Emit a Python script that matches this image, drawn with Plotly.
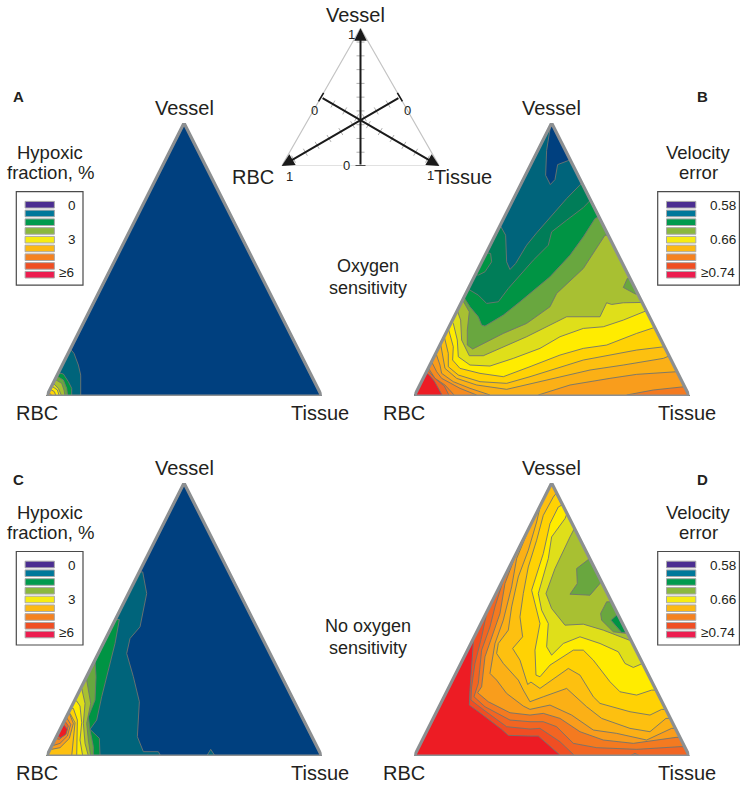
import plotly.graph_objects as go

W, H = 743, 786
FONT = "Liberation Sans"

# colour classes of the contour bands
SHADES = {
    "blue": "#00407f", "teal": "#00647b", "dkgreen": "#007d58", "green": "#009444",
    "midgreen": "#69a73f", "olive": "#a8c032", "yg": "#dfdf1a", "yellow": "#ffec00",
    "gold": "#ffd204", "amber": "#fdc010", "o1": "#fbb016", "o2": "#f99d1c",
    "o3": "#f68b1f", "o4": "#f47a20", "o5": "#f26522", "o6": "#f04e23", "red": "#ed1c24",
}
LEGEND_SHADES = ["#4b2e91", "#00789a", "#009a4e", "#8ab83f", "#f6ec13", "#fdb913", "#f58220", "#f04e23", "#ed1c4f"]

# triangle scale: base runs 0..825, apex at (412, 820)
TRIANGLE = [(0, 0), (825, 0), (412, 820)]

# contour bands, lowest layer first
A_SHADES = ["blue", "teal", "green", "midgreen", "olive", "yg", "yellow", "gold", "o2"]
A_BANDS = [
    TRIANGLE,
    [(72, 140), (82, 128), (95, 93), (102, 63), (102, 0), (0, 0)],
    [(35, 70), (50, 66), (65, 43), (75, 23), (75, 0), (0, 0)],
    [(30, 60), (50, 48), (60, 23), (63, 0), (0, 0)],
    [(25, 50), (45, 38), (52, 18), (55, 0), (0, 0)],
    [(20, 38), (35, 23), (45, 0), (0, 0)],
    [(15, 30), (32, 18), (38, 0), (0, 0)],
    [(11, 20), (23, 13), (28, 0), (0, 0)],
    [(6, 10), (15, 3), (15, 0), (0, 0)],
]

B_SHADES = ["teal", "blue", "dkgreen", "green", "green", "midgreen", "olive", "midgreen", "yg", "yellow",
            "gold", "amber", "o1", "o2", "o2", "o3", "o4", "o4", "o5", "red"]
B_BANDS = [
    TRIANGLE,
    [(410, 820), (397, 738), (394, 663), (408, 635), (422, 650), (430, 695), (459, 706), (467, 710)],
    [(259, 510), (274, 483), (277, 403), (287, 380), (304, 398), (337, 453), (367, 490), (412, 543), (457, 593),
     (499, 636), (505, 636), (825, 0), (0, 0)],
    [(162, 321), (192, 303), (217, 278), (252, 283), (282, 323), (317, 363), (357, 408), (402, 453), (412, 493),
     (457, 528), (507, 566), (530, 590), (825, 0), (0, 0)],
    [(219, 430), (229, 428), (232, 403), (212, 373), (192, 363), (183, 365)],
    [(149, 296), (167, 268), (192, 238), (202, 213), (212, 210), (267, 243), (317, 283), (407, 358), (467, 423),
     (507, 478), (542, 533), (552, 538), (825, 0), (0, 0)],
    [(145, 288), (165, 253), (159, 198), (159, 153), (175, 141), (217, 163), (267, 188), (337, 218), (407, 268),
     (427, 308), (507, 383), (572, 483), (582, 483), (825, 0), (0, 0)],
    [(639, 353), (627, 326), (664, 306), (670, 306), (647, 353)],
    [(129, 256), (139, 228), (142, 168), (165, 121), (207, 121), (267, 148), (337, 178), (427, 223), (457, 238),
     (557, 238), (577, 280), (592, 275), (627, 280), (683, 281), (825, 0), (0, 0)],
    [(113, 223), (117, 218), (129, 168), (132, 118), (167, 93), (227, 90), (297, 113), (377, 143), (437, 178),
     (507, 203), (567, 208), (627, 228), (696, 256), (825, 0), (0, 0)],
    [(102, 203), (117, 148), (115, 108), (137, 83), (197, 68), (267, 58), (347, 88), (437, 123), (507, 143),
     (577, 153), (667, 188), (721, 206), (825, 0), (0, 0)],
    [(90, 178), (102, 128), (102, 88), (132, 63), (197, 43), (277, 38), (347, 58), (427, 83), (507, 108),
     (587, 123), (667, 138), (750, 148), (825, 0), (0, 0)],
    [(79, 156), (89, 108), (92, 83), (127, 53), (187, 33), (277, 20), (357, 38), (437, 58), (527, 78),
     (627, 93), (747, 113), (764, 120), (825, 0), (0, 0)],
    [(65, 128), (77, 93), (82, 68), (117, 43), (167, 23), (227, 3), (227, 0), (0, 0)],
    [(372, 3), (467, 33), (587, 53), (667, 65), (788, 73), (825, 0), (372, 0)],
    [(52, 103), (67, 73), (82, 53), (137, 23), (187, 3), (187, 0), (0, 0)],
    [(43, 83), (62, 53), (92, 33), (122, 3), (122, 0), (0, 0)],
    [(637, 3), (717, 18), (811, 28), (825, 0), (637, 0)],
    [(38, 80), (65, 50), (90, 30), (105, 3), (105, 0), (0, 0)],
    [(35, 68), (42, 66), (60, 45), (85, 0), (0, 0)],
]

C_SHADES = ["blue", "teal", "teal", "green", "midgreen", "olive", "yg", "yellow", "gold", "amber", "o2", "o3", "o5", "red"]
C_BANDS = [
    TRIANGLE,
    [(278, 553), (288, 553), (300, 488), (280, 388), (250, 353), (240, 308), (260, 238), (278, 163), (272, 58),
     (290, 13), (335, 13), (342, 0), (0, 0)],
    [(480, 0), (492, 20), (505, 0)],
    [(207, 410), (218, 410), (205, 338), (185, 258), (165, 178), (150, 108), (130, 80), (158, 53), (160, 0), (0, 0)],
    [(145, 288), (148, 238), (145, 168), (125, 118), (130, 78), (140, 28), (140, 0), (0, 0)],
    [(116, 228), (120, 228), (132, 158), (120, 98), (125, 48), (132, 8), (132, 0), (0, 0)],
    [(100, 203), (105, 203), (115, 158), (110, 98), (115, 38), (125, 0), (0, 0)],
    [(85, 168), (90, 165), (100, 150), (105, 100), (100, 48), (108, 0), (0, 0)],
    [(72, 143), (80, 143), (92, 108), (90, 48), (90, 0), (0, 0)],
    [(65, 128), (70, 128), (85, 100), (80, 50), (75, 0), (0, 0)],
    [(60, 120), (68, 128), (80, 98), (68, 53), (40, 25), (15, 20), (10, 22)],
    [(55, 110), (60, 115), (72, 95), (62, 60), (40, 38), (22, 32), (15, 30)],
    [(50, 102), (55, 105), (65, 90), (55, 65), (38, 50), (28, 52), (25, 50)],
    [(48, 98), (62, 80), (58, 65), (42, 55), (32, 60), (30, 60)],
]

D_SHADES = ["red", "o6", "o5", "o4", "o2", "o1", "amber", "gold", "yellow", "yg", "olive", "midgreen", "midgreen", "green", "o5"]
D_BANDS = [
    TRIANGLE,
    [(178, 352), (172, 278), (167, 198), (165, 153), (197, 130), (262, 80), (282, 62), (347, 60), (372, 60), (437, 3), (437, 0), (825, 0), (412, 820)],
    [(217, 428), (202, 358), (182, 278), (172, 208), (170, 168), (202, 143), (277, 88), (347, 81), (377, 83), (437, 43), (479, 3), (479, 0), (825, 0), (412, 820)],
    [(267, 528), (242, 448), (227, 388), (202, 318), (192, 218), (179, 178), (212, 148), (287, 108), (347, 103), (387, 103), (427, 88), (477, 38), (547, 25), (667, 20), (797, 28), (811, 28), (412, 820)],
    [(304, 603), (272, 518), (257, 428), (237, 368), (212, 298), (202, 208), (190, 190), (222, 163), (287, 130), (347, 123), (387, 128), (437, 113), (497, 73), (567, 48), (657, 38), (785, 56), (796, 56), (412, 820)],
    [(342, 678), (307, 593), (292, 508), (267, 408), (242, 338), (227, 248), (247, 228), (277, 188), (327, 150), (347, 140), (407, 153), (472, 123), (537, 78), (607, 68), (697, 48), (772, 83), (783, 83), (412, 820)],
    [(378, 750), (367, 703), (342, 618), (312, 538), (292, 448), (282, 378), (252, 338), (247, 308), (267, 278), (312, 228), (327, 198), (347, 163), (387, 178), (457, 203), (517, 148), (562, 113), (647, 83), (707, 73), (755, 113), (767, 113), (412, 820)],
    [(425, 788), (417, 778), (387, 723), (367, 648), (342, 568), (327, 488), (317, 418), (325, 358), (295, 323), (317, 288), (340, 215), (350, 222), (377, 203), (462, 263), (497, 243), (537, 178), (557, 158), (647, 133), (707, 123), (742, 140), (752, 140)],
    [(445, 755), (432, 748), (407, 698), (387, 608), (352, 498), (362, 458), (377, 398), (362, 318), (365, 243), (377, 238), (407, 273), (477, 318), (507, 318), (537, 288), (587, 223), (617, 193), (667, 183), (712, 198), (725, 198)],
    [(458, 728), (452, 713), (412, 658), (402, 593), (372, 488), (382, 438), (402, 398), (397, 328), (412, 303), (447, 338), (497, 358), (557, 338), (612, 313), (632, 278), (657, 266), (685, 278)],
    [(480, 683), (467, 658), (422, 563), (395, 488), (412, 443), (452, 393), (507, 396), (567, 378), (650, 346)],
    [(526, 593), (487, 563), (489, 518), (467, 486), (527, 483), (561, 523)],
    [(591, 463), (577, 463), (559, 428), (562, 408), (597, 373), (639, 368)],
    [(610, 426), (590, 408), (622, 371), (636, 371)],
    [(647, 0), (662, 8), (677, 0)],
]

LEGEND_A = ["0", "3", "≥6"]
LEGEND_B = ["0.58", "0.66", "≥0.74"]
KEY_TICKS = [0.1, 0.2, 0.3, 0.4, 0.5, 0.6, 0.7, 0.8, 0.9]


def px(x):
    return x / W


def py(y):
    return 1 - y / H


fig = go.Figure()
annotations = []
shapes = []


def label(text, x, y, size=20, bold=False, bg=None):
    annotations.append(dict(
        text=f"<b>{text}</b>" if bold else text, x=px(x), y=py(y), xref="paper", yref="paper",
        showarrow=False, xanchor="center", yanchor="middle", bgcolor=bg, borderpad=0,
        font=dict(family=FONT, size=size, color="#231f20"),
    ))


def draw_panel(n, bands, band_shades, left, top, bottom):
    # one triangle = one hidden pair of axes
    ax = dict(visible=False, fixedrange=True)
    fig.layout[f"xaxis{n}"] = dict(ax, domain=[px(left), px(left + 275)], range=[0, 825], anchor=f"y{n}")
    fig.layout[f"yaxis{n}"] = dict(ax, domain=[py(bottom), py(top)], range=[0, 820], anchor=f"x{n}")
    for shade, band in zip(band_shades, bands):
        xs, ys = zip(*band)
        fig.add_trace(go.Scatter(
            x=xs + xs[:1], y=ys + ys[:1], mode="lines", fill="toself", fillcolor=SHADES[shade],
            line=dict(color="#6f7570", width=0.9), xaxis=f"x{n}", yaxis=f"y{n}", hoverinfo="skip",
        ))
    xs, ys = zip(*TRIANGLE)
    fig.add_trace(go.Scatter(
        x=xs + xs[:1], y=ys + ys[:1], mode="lines", line=dict(color="#8c8f91", width=3.2),
        xaxis=f"x{n}", yaxis=f"y{n}", cliponaxis=False, hoverinfo="skip",
    ))


def draw_legend(x0, y0, names, text_x, ge_x, title1, title2, title_x):
    shapes.append(dict(type="rect", xref="paper", yref="paper", x0=px(x0), x1=px(x0 + 66.7 + (15 if len(names[0]) > 1 else 0)),
                       y0=py(y0), y1=py(y0 + 93.5), line=dict(color="#4a4a4a", width=1.2), fillcolor="white"))
    sx = x0 + 8.8
    for i, colour in enumerate(LEGEND_SHADES):
        cy = y0 + 13 + i * 8.75
        shapes.append(dict(type="rect", xref="paper", yref="paper", x0=px(sx), x1=px(sx + 29.3),
                           y0=py(cy - 3.3), y1=py(cy + 3.3), line=dict(color="#a9a9a9", width=1), fillcolor=colour))
    label(names[0], text_x, y0 + 13.5, 13.5)
    label(names[1], text_x, y0 + 47.5, 13.5)
    label(names[2], ge_x, y0 + 81, 13.5)
    label(title1, title_x, y0 - 39.5, 18.5)
    label(title2, title_x, y0 - 19, 18.5)


draw_panel(1, A_BANDS, A_SHADES, 46.7, 123, 396)
draw_panel(2, B_BANDS, B_SHADES, 414.3, 123, 396)
draw_panel(3, C_BANDS, C_SHADES, 46.7, 483, 756)
draw_panel(4, D_BANDS, D_SHADES, 414.3, 483, 756)

# key triangle with its three axes
kx = dict(visible=False, fixedrange=True)
fig.layout["xaxis5"] = dict(kx, domain=[px(281.7), px(439.3)], range=[0, 1], anchor="y5")
fig.layout["yaxis5"] = dict(kx, domain=[py(166), py(28.3)], range=[0, 1], anchor="x5")
key_w, key_h = 157.6, 137.7
fig.add_trace(go.Scatter(x=[0, 1, 0.5, 0], y=[0, 0, 1, 0], mode="lines", line=dict(color="#c4c4c4", width=1.2),
                         xaxis="x5", yaxis="y5", cliponaxis=False, hoverinfo="skip"))
key_axes = [((0.5, 0.0), (0.5, 1.0)), ((0.25, 0.5), (1.0, 0.0)), ((0.75, 0.5), (0.0, 0.0))]
tick_x, tick_y = [], []
end_x, end_y = [], []
for (x0, y0), (x1, y1) in key_axes:
    dx_px, dy_px = (x1 - x0) * key_w, (y1 - y0) * key_h
    length = (dx_px ** 2 + dy_px ** 2) ** 0.5
    nx, ny = -dy_px / length, dx_px / length
    for t in KEY_TICKS:
        cx, cy = x0 + t * (x1 - x0), y0 + t * (y1 - y0)
        tick_x += [cx - 4 * nx / key_w, cx + 4 * nx / key_w, None]
        tick_y += [cy - 4 * ny / key_h, cy + 4 * ny / key_h, None]
    end_x += [x0 - 5 * nx / key_w, x0 + 5 * nx / key_w, None]
    end_y += [y0 - 5 * ny / key_h, y0 + 5 * ny / key_h, None]
    annotations.append(dict(x=x1, y=y1, ax=x0, ay=y0, xref="x5", yref="y5", axref="x5", ayref="y5", text="",
                            showarrow=True, arrowhead=2, arrowsize=1.25, arrowwidth=2, arrowcolor="#1a1a1a"))
fig.add_trace(go.Scatter(x=tick_x, y=tick_y, mode="lines", line=dict(color="#b0b0b0", width=1), xaxis="x5", yaxis="y5",
                         cliponaxis=False, hoverinfo="skip"))
fig.add_trace(go.Scatter(x=end_x, y=end_y, mode="lines", line=dict(color="#1a1a1a", width=1.6), xaxis="x5", yaxis="y5",
                         cliponaxis=False, hoverinfo="skip"))

draw_legend(16.3, 191.7, LEGEND_A, 72, 66.7, "Hypoxic", "fraction, %", 50)
draw_legend(657.7, 191.7, LEGEND_B, 722.7, 717.7, "Velocity", "error", 698)
draw_legend(16.3, 551.5, LEGEND_A, 72, 66.7, "Hypoxic", "fraction, %", 50)
draw_legend(657.7, 551.5, LEGEND_B, 722.7, 717.7, "Velocity", "error", 698)

for text, x, y in [("A", 18, 97), ("B", 702, 97), ("C", 18, 479), ("D", 702, 479)]:
    label(text, x, y, 15, bold=True)

for cx, dy in [(184, 0), (551, 0), (184, 360), (551, 360)]:
    label("Vessel", cx, 108 + dy)
    label("RBC", cx - 147, 413 + dy)
    label("Tissue", cx + 136, 413 + dy)

label("Vessel", 355, 15)
label("RBC", 253, 177)
label("Tissue", 463, 177)
for text, x, y, bg in [("1", 351, 34, None), ("0", 314.3, 110.7, None), ("0", 407.3, 110.7, None),
                       ("0", 346, 166, "white"), ("1", 289, 176, None), ("1", 430, 175.7, None)]:
    label(text, x, y, 13, bg=bg)

label("Oxygen", 368, 266, 18)
label("sensitivity", 368, 288, 18)
label("No oxygen", 368, 626, 18)
label("sensitivity", 368, 648, 18)

fig.update_layout(
    width=W, height=H, margin=dict(l=0, r=0, t=0, b=0), showlegend=False,
    paper_bgcolor="white", plot_bgcolor="white", annotations=annotations, shapes=shapes,
)
fig.write_html("out.html", config=dict(displayModeBar=False), post_script="document.body.style.margin='0';")
